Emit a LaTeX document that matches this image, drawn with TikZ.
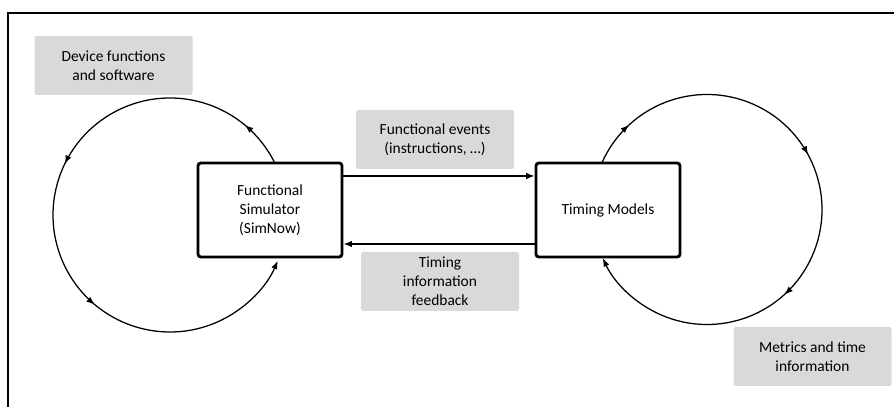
\documentclass[tikz,border=0pt]{standalone}
\usepackage{fontspec}
\setmainfont{Carlito}
\usetikzlibrary{arrows.meta,decorations.markings}
\definecolor{labelgray}{RGB}{217,217,217}
\tikzset{
  simbox/.style={draw, line width=2pt, rounded corners=2pt, minimum width=144*0.025cm,
    minimum height=94*0.025cm, align=center, font=\fontsize{11}{13.5}\selectfont},
  labelbox/.style={fill=labelgray, rounded corners=1.5pt, minimum width=158*0.025cm,
    minimum height=59*0.025cm, align=center, font=\fontsize{11}{13.5}\selectfont},
  tip/.style={-{Latex[length=6pt,width=4.5pt]}},
  flow/.style={line width=0.9pt, tip},
}
\begin{document}
\begin{tikzpicture}[x=0.025cm, y=0.025cm]
  \useasboundingbox (0,0) rectangle (894,407);
  \draw [line width=1.4pt] (8,-20) -- (8,394) -- (920,394);

  \coordinate (lc) at (170,192);
  \coordinate (rc) at (707,197.5);

  \node [simbox] (fs) at (270,197) {Functional\\Simulator\\(SimNow)};
  \node [simbox] (tm) at (608,197) {Timing Models};

  \node [labelbox] (dev) at (113.5,341.5) {Device functions\\and software};
  \node [labelbox] (fev) at (435,267.5) {Functional events\\(instructions, …)};
  \node [labelbox] (tif) at (440,125.5) {Timing\\information\\feedback};
  \node [labelbox] (met) at (812.5,50.5) {Metrics and time\\information};

  \draw [flow] (fs.east |- 0,231) -- (tm.west |- 0,231);
  \draw [flow] (tm.west |- 0,163) -- (fs.east |- 0,163);

  \begin{scope}[line width=0.9pt, decoration={markings,
      mark=at position 0.075 with {\arrow{Latex[length=6pt,width=4.5pt]}},
      mark=at position 0.41 with {\arrow{Latex[length=6pt,width=4.5pt]}},
      mark=at position 0.655 with {\arrow{Latex[length=6pt,width=4.5pt]}}}]
    \draw [tip, postaction={decorate}] (lc) ++(27:117) arc [start angle=27, end angle=337, radius=117];
    \draw [tip, postaction={decorate}] (rc) ++(156:115) arc [start angle=156, end angle=-155, radius=115];
  \end{scope}
\end{tikzpicture}
\end{document}
